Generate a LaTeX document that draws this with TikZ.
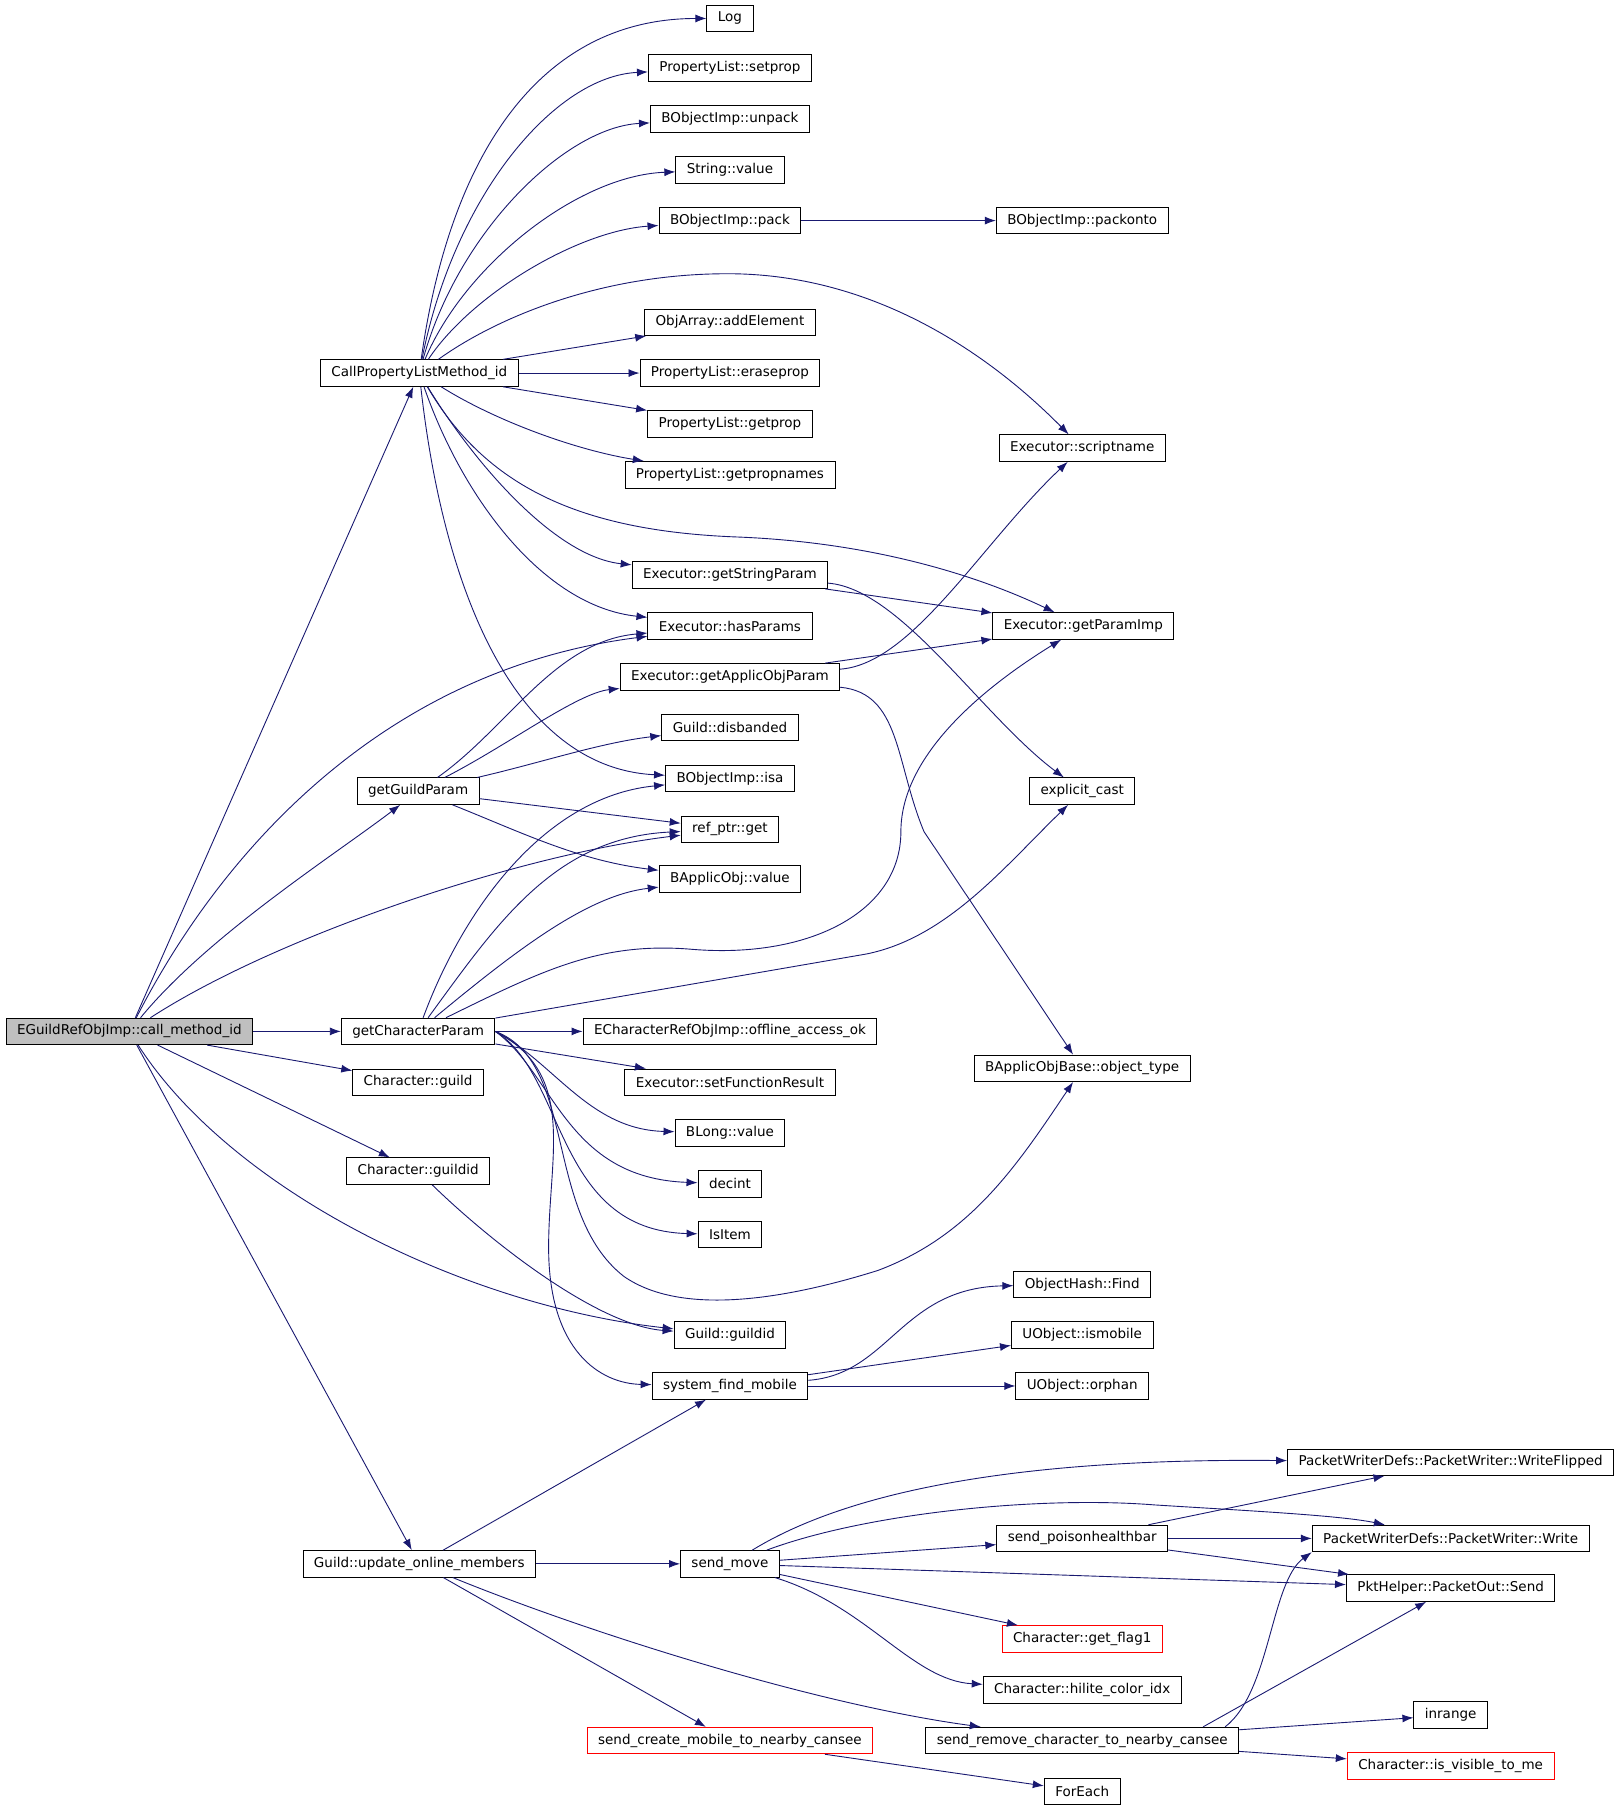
\documentclass[tikz,border=0pt]{standalone}
\usepackage{fontspec}
\setmainfont{DejaVu Sans}
\usepackage{xcolor}
\usepackage{tikz}
\usetikzlibrary{arrows.meta}
\definecolor{edgeblue}{HTML}{191970}
\definecolor{rootgray}{HTML}{BFBFBF}

\begin{document}
\begin{tikzpicture}[x=1.1548pt, y=-1.1548pt,
				>={Latex[length=11pt,width=8pt]},
				line width=0.9pt,
				fn/.style={draw=black, rectangle, fill=white, minimum height=26.5pt, inner xsep=11pt, inner ysep=0pt, font=\fontsize{13.5}{15}\selectfont},
				root/.style={fn, fill=rootgray},
				part/.style={fn, draw=red}]
				\useasboundingbox (0,0) rectangle (1402,1568);
				% callers
				\node at (112,893) (cmi) [root] {EGuildRefObjImp::call\_method\_id};
				\node at (363,323) (cplm) [fn] {CallPropertyListMethod\_id};
				\node at (362,685) (ggp) [fn] {getGuildParam};
				\node at (362,893) (gcp) [fn] {getCharacterParam};
				\node at (362,937) (cguild) [fn] {Character::guild};
				\node at (362,1014) (cguildid) [fn] {Character::guildid};
				\node at (363,1354) (uom) [fn] {Guild::update\_online\_members};
				% middle column
				\node at (632,16) (log) [fn] {Log};
				\node at (632,59) (setprop) [fn] {PropertyList::setprop};
				\node at (632,103) (unpack) [fn] {BObjectImp::unpack};
				\node at (632,147) (strval) [fn] {String::value};
				\node at (632,191) (pack) [fn] {BObjectImp::pack};
				\node at (632,279) (addel) [fn] {ObjArray::addElement};
				\node at (632,323) (erase) [fn] {PropertyList::eraseprop};
				\node at (632,367) (getprop) [fn] {PropertyList::getprop};
				\node at (632,411) (propnames) [fn] {PropertyList::getpropnames};
				\node at (632,498) (gsp) [fn] {Executor::getStringParam};
				\node at (632,542) (hasp) [fn] {Executor::hasParams};
				\node at (632,586) (gaop) [fn] {Executor::getApplicObjParam};
				\node at (632,630) (disb) [fn] {Guild::disbanded};
				\node at (632,674) (isa) [fn] {BObjectImp::isa};
				\node at (632,718) (refget) [fn] {ref\_ptr::get};
				\node at (632,761) (aval) [fn] {BApplicObj::value};
				\node at (632,893) (offline) [fn] {ECharacterRefObjImp::offline\_access\_ok};
				\node at (632,937) (setres) [fn] {Executor::setFunctionResult};
				\node at (632,981) (blong) [fn] {BLong::value};
				\node at (632,1025) (decint) [fn] {decint};
				\node at (632,1069) (isitem) [fn] {IsItem};
				\node at (632,1156) (gguildid) [fn] {Guild::guildid};
				\node at (632,1200) (sfm) [fn] {system\_find\_mobile};
				\node at (632,1354) (sm) [fn] {send\_move};
				\node at (632,1507) (scm) [part] {send\_create\_mobile\_to\_nearby\_cansee};
				% right column
				\node at (937,191) (packonto) [fn] {BObjectImp::packonto};
				\node at (937,388) (scriptname) [fn] {Executor::scriptname};
				\node at (938,542) (gpi) [fn] {Executor::getParamImp};
				\node at (937,685) (ecast) [fn] {explicit\_cast};
				\node at (937,925) (otype) [fn] {BApplicObjBase::object\_type};
				\node at (937,1112) (ohfind) [fn] {ObjectHash::Find};
				\node at (937,1156) (ismobile) [fn] {UObject::ismobile};
				\node at (937,1200) (orphan) [fn] {UObject::orphan};
				\node at (937,1332) (sphb) [fn] {send\_poisonhealthbar};
				\node at (937,1419) (flag1) [part] {Character::get\_flag1};
				\node at (937,1463) (hilite) [fn] {Character::hilite\_color\_idx};
				\node at (937,1507) (src) [fn] {send\_remove\_character\_to\_nearby\_cansee};
				\node at (937,1551) (foreach) [fn] {ForEach};
				% far right
				\node at (1256,1266) (wflip) [fn] {PacketWriterDefs::PacketWriter::WriteFlipped};
				\node at (1256,1332) (pwrite) [fn] {PacketWriterDefs::PacketWriter::Write};
				\node at (1256,1375) (send) [fn] {PktHelper::PacketOut::Send};
				\node at (1256,1485) (inrange) [fn] {inrange};
				\node at (1256,1529) (visible) [part] {Character::is\_visible\_to\_me};
				% call_method_id
				\draw[->, edgeblue] (cmi) -- (cplm);
				\draw[->, edgeblue] (cmi) .. controls (190,740) and (330,580) .. (hasp);
				\draw[->, edgeblue] (cmi) .. controls (180,810) and (290,740) .. (ggp);
				\draw[->, edgeblue] (cmi) .. controls (240,810) and (450,740) .. (refget);
				\draw[->, edgeblue] (cmi) -- (gcp);
				\draw[->, edgeblue] (cmi) -- (cguild);
				\draw[->, edgeblue] (cmi) -- (cguildid);
				\draw[->, edgeblue] (cmi) .. controls (200,1030) and (400,1130) .. (gguildid);
				\draw[->, edgeblue] (cmi) -- (uom);
				% CallPropertyListMethod_id
				\draw[->, edgeblue] (cplm) .. controls (390,130) and (470,16) .. (log);
				\draw[->, edgeblue] (cplm) .. controls (393,170) and (480,66) .. (setprop);
				\draw[->, edgeblue] (cplm) .. controls (397,200) and (490,110) .. (unpack);
				\draw[->, edgeblue] (cplm) .. controls (402,230) and (500,152) .. (strval);
				\draw[->, edgeblue] (cplm) .. controls (408,255) and (500,200) .. (pack);
				\draw[->, edgeblue] (cplm) .. controls (430,275) and (520,237) .. (630,237) .. controls (760,237) and (860,310) .. (scriptname);
				\draw[->, edgeblue] (cplm) -- (addel);
				\draw[->, edgeblue] (cplm) -- (erase);
				\draw[->, edgeblue] (cplm) -- (getprop);
				\draw[->, edgeblue] (cplm) .. controls (430,365) and (500,390) .. (propnames);
				\draw[->, edgeblue] (cplm) .. controls (420,420) and (500,460) .. (640,465) .. controls (760,470) and (850,500) .. (gpi);
				\draw[->, edgeblue] (cplm) .. controls (410,400) and (480,482) .. (gsp);
				\draw[->, edgeblue] (cplm) .. controls (400,430) and (470,525) .. (hasp);
				\draw[->, edgeblue] (cplm) .. controls (385,520) and (450,665) .. (isa);
				\draw[->, edgeblue] (pack) -- (packonto);
				% getStringParam, getApplicObjParam
				\draw[->, edgeblue] (gsp) -- (gpi);
				\draw[->, edgeblue] (gsp) .. controls (780,510) and (850,620) .. (ecast);
				\draw[->, edgeblue] (gaop) .. controls (790,575) and (850,470) .. (scriptname);
				\draw[->, edgeblue] (gaop) -- (gpi);
				\draw[->, edgeblue] (gaop) .. controls (780,600) and (775,660) .. (800,720) -- (otype);
				% getGuildParam
				\draw[->, edgeblue] (ggp) .. controls (440,630) and (480,555) .. (hasp);
				\draw[->, edgeblue] (ggp) .. controls (440,645) and (500,600) .. (gaop);
				\draw[->, edgeblue] (ggp) .. controls (470,660) and (520,643) .. (disb);
				\draw[->, edgeblue] (ggp) -- (refget);
				\draw[->, edgeblue] (ggp) .. controls (450,720) and (500,745) .. (aval);
				% getCharacterParam
				\draw[->, edgeblue] (gcp) .. controls (400,790) and (470,690) .. (isa);
				\draw[->, edgeblue] (gcp) .. controls (430,800) and (480,725) .. (refget);
				\draw[->, edgeblue] (gcp) .. controls (450,820) and (510,775) .. (aval);
				\draw[->, edgeblue] (gcp) .. controls (470,840) and (520,815) .. (600,822) .. controls (700,830) and (780,790) .. (780,720) .. controls (780,650) and (860,590) .. (gpi);
				\draw[->, edgeblue] (gcp) -- (750,826) .. controls (820,812) and (870,750) .. (ecast);
				\draw[->, edgeblue] (gcp) -- (offline);
				\draw[->, edgeblue] (gcp) -- (setres);
				\draw[->, edgeblue] (gcp.east) .. controls (480,920) and (510,978) .. (blong);
				\draw[->, edgeblue] (gcp.east) .. controls (480,930) and (490,1020) .. (decint);
				\draw[->, edgeblue] (gcp.east) .. controls (490,930) and (480,1065) .. (isitem);
				\draw[->, edgeblue] (gcp.east) .. controls (500,920) and (470,1050) .. (540,1105) .. controls (590,1140) and (680,1125) .. (760,1100) .. controls (840,1070) and (880,1010) .. (otype);
				\draw[->, edgeblue] (gcp.east) .. controls (500,930) and (475,1000) .. (475,1080) .. controls (475,1170) and (520,1198) .. (sfm);
				\draw[->, edgeblue] (cguildid) .. controls (430,1080) and (520,1148) .. (gguildid);
				% system_find_mobile
				\draw[->, edgeblue] (sfm) .. controls (770,1190) and (780,1115) .. (ohfind);
				\draw[->, edgeblue] (sfm) -- (ismobile);
				\draw[->, edgeblue] (sfm) -- (orphan);
				% update_online_members
				\draw[->, edgeblue] (uom) -- (sfm);
				\draw[->, edgeblue] (uom) -- (sm);
				\draw[->, edgeblue] (uom) -- (scm);
				\draw[->, edgeblue] (uom) .. controls (500,1410) and (700,1475) .. (src);
				% send_move
				\draw[->, edgeblue] (sm) .. controls (720,1300) and (850,1262) .. (wflip);
				\draw[->, edgeblue] (sm) .. controls (750,1310) and (900,1295) .. (1000,1303) .. controls (1080,1308) and (1160,1312) .. (pwrite);
				\draw[->, edgeblue] (sm) -- (sphb);
				\draw[->, edgeblue] (sm) -- (send);
				\draw[->, edgeblue] (sm) -- (flag1);
				\draw[->, edgeblue] (sm) .. controls (750,1390) and (790,1455) .. (hilite);
				% send_poisonhealthbar
				\draw[->, edgeblue] (sphb) -- (wflip);
				\draw[->, edgeblue] (sphb) -- (pwrite);
				\draw[->, edgeblue] (sphb) -- (send);
				% send_remove_character_to_nearby_cansee
				\draw[->, edgeblue] ([xshift=-14pt]src.north east) .. controls (1100,1465) and (1100,1370) .. (pwrite.south west);
				\draw[->, edgeblue] ([xshift=-36pt]src.north east) -- (send);
				\draw[->, edgeblue] (src) -- (inrange);
				\draw[->, edgeblue] (src) -- (visible);
				\draw[->, edgeblue] (scm) -- (foreach);
			\end{tikzpicture}
\end{document}
